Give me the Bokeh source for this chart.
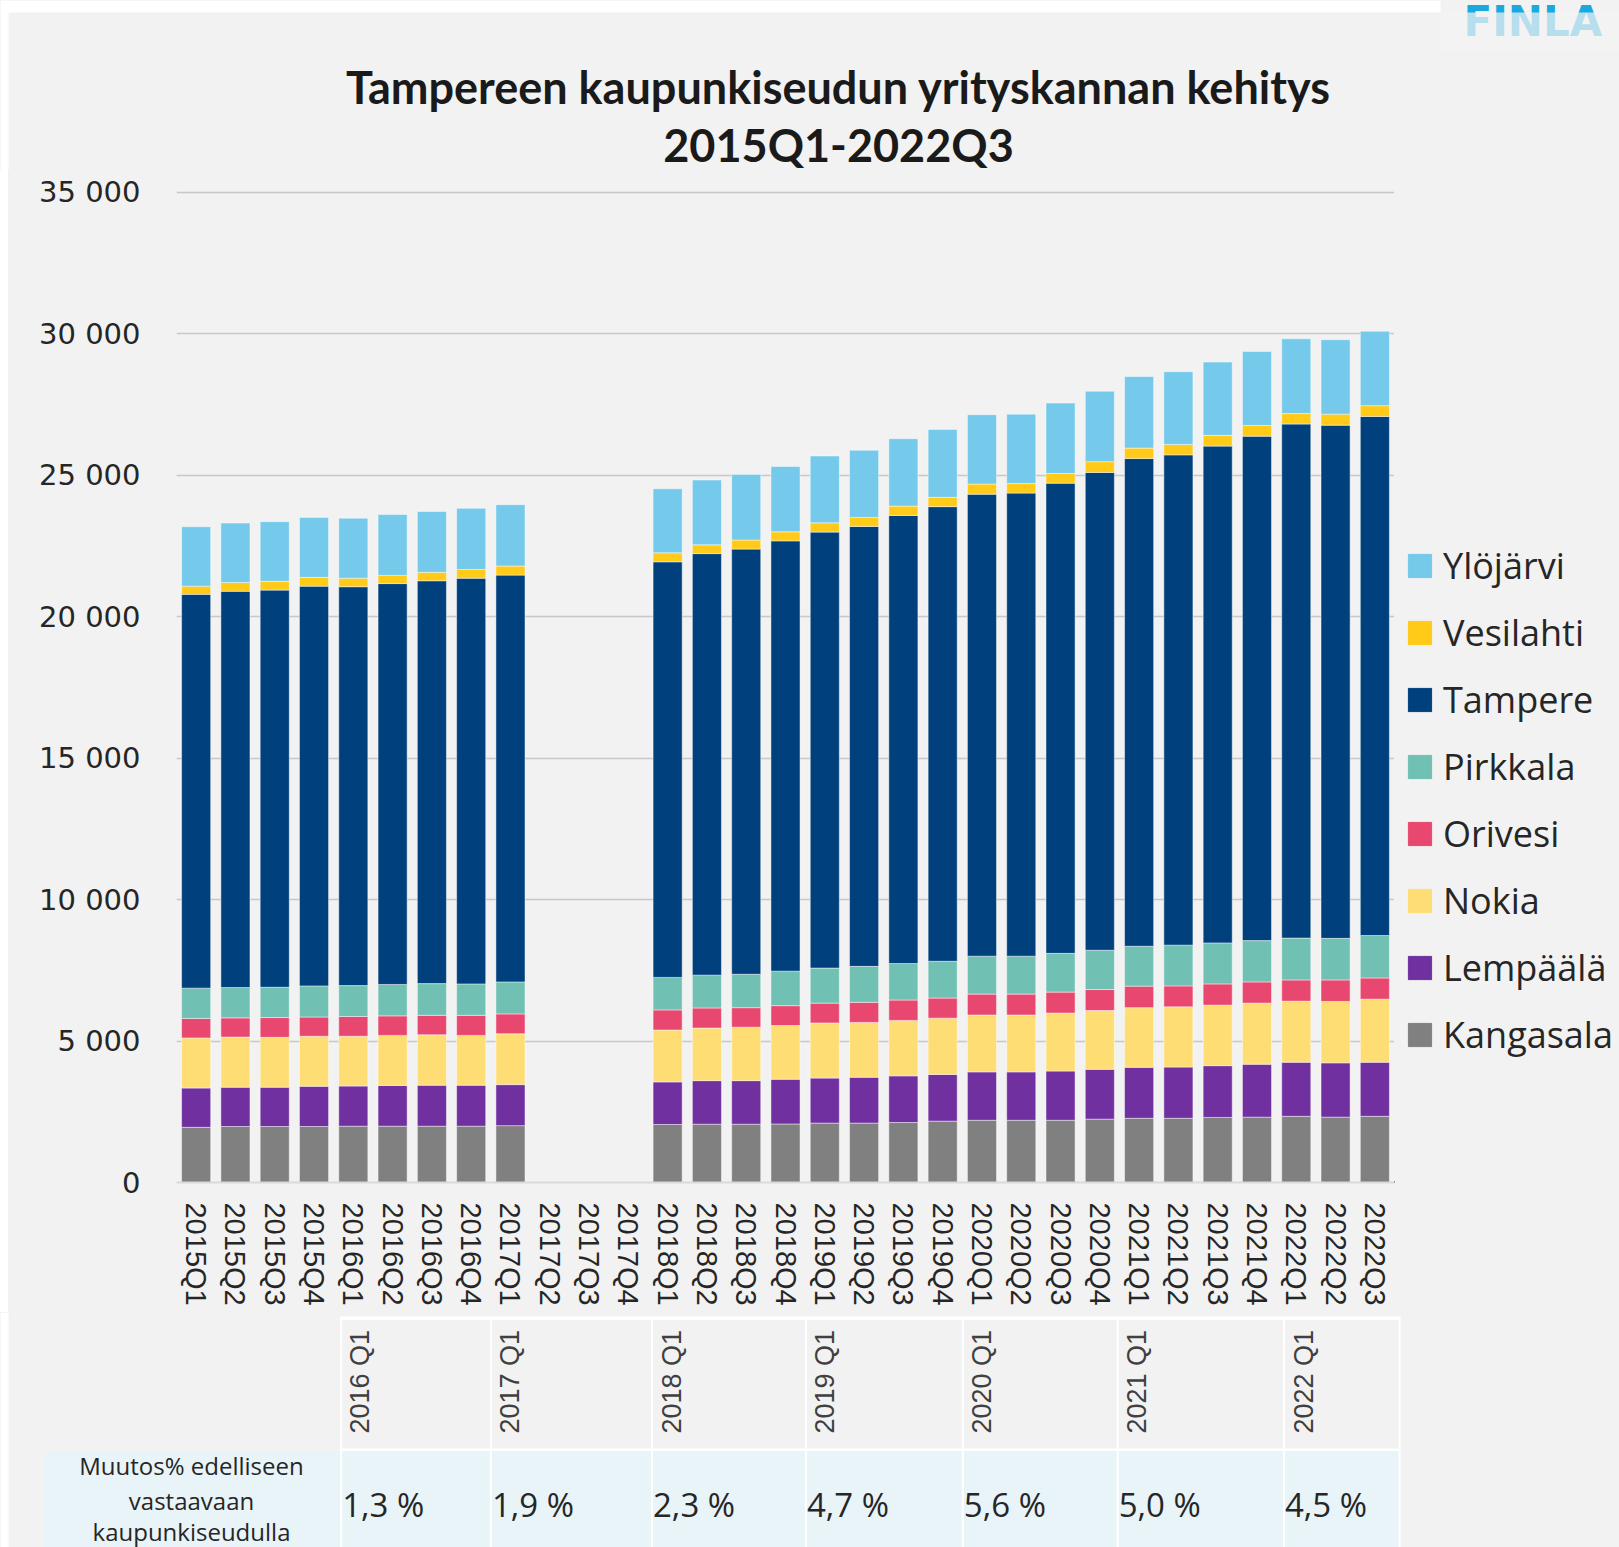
import numpy as np
from bokeh.plotting import figure
from bokeh.layouts import column, row
from bokeh.models import (ColumnDataSource, FactorRange, Range1d, FixedTicker,
                          Legend, LegendItem, Spacer)
from bokeh.core.properties import value
from bokeh.embed import file_html
from bokeh.resources import INLINE
from math import pi

# ---------------- data ----------------
quarters = ["2015Q1", "2015Q2", "2015Q3", "2015Q4", "2016Q1", "2016Q2", "2016Q3", "2016Q4",
            "2017Q1", "2017Q2", "2017Q3", "2017Q4", "2018Q1", "2018Q2", "2018Q3", "2018Q4",
            "2019Q1", "2019Q2", "2019Q3", "2019Q4", "2020Q1", "2020Q2", "2020Q3", "2020Q4",
            "2021Q1", "2021Q2", "2021Q3", "2021Q4", "2022Q1", "2022Q2", "2022Q3"]

kangasala = [1950, 1980, 1980, 1980, 1990, 1990, 1990, 1990, 2010, None, None, None,
             2050, 2060, 2060, 2070, 2100, 2100, 2120, 2170, 2200, 2200, 2200, 2240,
             2270, 2270, 2300, 2310, 2340, 2310, 2340]
lempaala = [1390, 1390, 1390, 1420, 1420, 1440, 1450, 1450, 1450, None, None, None,
            1505, 1540, 1540, 1580, 1590, 1620, 1650, 1650, 1710, 1710, 1740, 1760,
            1800, 1810, 1830, 1870, 1910, 1920, 1910]
nokia = [1770, 1770, 1760, 1770, 1760, 1770, 1780, 1760, 1800, None, None, None,
         1835, 1860, 1890, 1900, 1950, 1940, 1960, 1990, 2010, 2010, 2050, 2080,
         2110, 2130, 2140, 2160, 2160, 2170, 2230]
orivesi = [690, 680, 700, 680, 700, 690, 690, 710, 700, None, None, None,
           710, 710, 690, 700, 700, 710, 720, 710, 740, 740, 740, 740,
           760, 740, 750, 750, 750, 760, 750]
pirkkala = [1070, 1070, 1070, 1100, 1090, 1110, 1120, 1110, 1130, None, None, None,
            1150, 1160, 1180, 1220, 1240, 1270, 1290, 1300, 1340, 1340, 1370, 1390,
            1410, 1440, 1450, 1460, 1480, 1470, 1500]
tampere = [13920, 14010, 14040, 14130, 14100, 14170, 14240, 14340, 14380, None, None, None,
           14690, 14900, 15030, 15210, 15410, 15550, 15840, 16070, 16330, 16370, 16620, 16890,
           17240, 17330, 17560, 17830, 18170, 18140, 18350]
vesilahti = [290, 310, 310, 310, 300, 290, 300, 310, 320, None, None, None,
             320, 310, 320, 320, 330, 320, 330, 330, 360, 340, 340, 380,
             370, 370, 380, 380, 370, 390, 380]
ylojarvi = [2100, 2100, 2110, 2120, 2120, 2150, 2150, 2160, 2170, None, None, None,
            2260, 2290, 2320, 2310, 2360, 2370, 2380, 2400, 2450, 2450, 2490, 2490,
            2530, 2570, 2590, 2610, 2640, 2630, 2630]

series_names = ["Kangasala", "Lempäälä", "Nokia", "Orivesi", "Pirkkala", "Tampere", "Vesilahti", "Ylöjärvi"]
series_values = [kangasala, lempaala, nokia, orivesi, pirkkala, tampere, vesilahti, ylojarvi]
series_colors = ["#808080", "#7030a0", "#ffdd75", "#e8486f", "#70c1b3", "#00417d", "#ffca18", "#75c9eb"]

ytick_values = [0, 5000, 10000, 15000, 20000, 25000, 30000, 35000]
ytick_labels = ["0", "5 000", "10 000", "15 000", "20 000", "25 000", "30 000", "35 000"]

period_labels = ["2016 Q1", "2017 Q1", "2018 Q1", "2019 Q1", "2020 Q1", "2021 Q1", "2022 Q1"]
change_labels = ["1,3 %", "1,9 %", "2,3 %", "4,7 %", "5,6 %", "5,0 %", "4,5 %"]
row_label_lines = ["Muutos% edelliseen", "vastaavaan", "kaupunkiseudulla"]

title_lines = ["Tampereen kaupunkiseudun yrityskannan kehitys", "2015Q1-2022Q3"]
logo_text = "FINLA"

# ---------------- layout constants (pixels) ----------------
W = 1619
BG = "#f2f2f2"
A_H = 170                      # title strip
B_H = 1142                     # chart strip
C_H = 1547 - A_H - B_H         # table strip
B_LEFT = 168
FRAME_W = 1218
B_W = B_LEFT + FRAME_W         # chart figure width (frame ends at its right edge)
D_W = W - 8 - B_W              # legend strip width


def blank_fig(width, height, flip=True):
    f = figure(width=width, height=height, x_range=Range1d(0, width),
               y_range=Range1d(height, 0) if flip else Range1d(0, height),
               x_axis_type=None, y_axis_type=None, output_backend="svg",
               toolbar_location=None, min_border=0)
    f.background_fill_color = BG
    f.border_fill_color = BG
    f.outline_line_color = None
    return f


# ---------------- A: title ----------------
pa = blank_fig(W, A_H)
pa.text(x=[1463], y=[21], text=[logo_text], text_font=value("DejaVu Sans"), text_font_style="bold",
        text_font_size="42px", text_color="#1aa9de", text_align="left", text_baseline="alphabetic")
pa.quad(left=[1440], right=[W], top=[12], bottom=[50], fill_color=BG, fill_alpha=0.72,
        line_color=None)
pa.quad(left=[0], right=[8], top=[0], bottom=[A_H], fill_color="white", line_color=None)
pa.quad(left=[0], right=[1440], top=[0], bottom=[12], fill_color="white", line_color=None)
pa.text(x=[838, 838], y=[86, 144], text=title_lines, text_font=value("Lato"),
        text_font_style="bold", text_font_size="45px", text_color="#1a1a1a",
        text_align="center", text_baseline="alphabetic")

# ---------------- B: chart ----------------
data = {"quarter": quarters}
for name, vals in zip(series_names, series_values):
    data[name] = np.array([np.nan if v is None else v for v in vals], dtype=float)
source = ColumnDataSource(data)

pb = figure(width=B_W, height=B_H, x_range=FactorRange(factors=quarters),
            y_range=Range1d(0, 35100), output_backend="svg", toolbar_location=None,
            min_border_left=B_LEFT, min_border_right=0,
            min_border_top=19, min_border_bottom=130)
pb.background_fill_color = BG
pb.border_fill_color = BG
pb.outline_line_color = None

pb.vbar_stack(series_names, x="quarter", width=0.74, color=series_colors,
              source=source, line_color="white", line_alpha=0.45, line_width=1)

pb.yaxis.ticker = FixedTicker(ticks=ytick_values)
pb.yaxis.major_label_overrides = {v: l for v, l in zip(ytick_values, ytick_labels)}
pb.yaxis.axis_line_color = None
pb.yaxis.major_tick_line_color = None
pb.yaxis.minor_tick_line_color = None
pb.yaxis.major_label_text_font = "DejaVu Sans"
pb.yaxis.major_label_text_font_size = "29px"
pb.yaxis.major_label_text_color = "#262626"
pb.yaxis.major_label_standoff = 30

pb.xaxis.axis_line_color = "#d9d9d9"
pb.xaxis.axis_line_width = 2
pb.xaxis.major_tick_line_color = None
pb.xaxis.minor_tick_line_color = None
pb.xaxis.major_label_orientation = "vertical"
pb.xaxis.major_label_text_font = "Liberation Sans"
pb.xaxis.major_label_text_font_size = "29px"
pb.xaxis.major_label_text_color = "#262626"
pb.xaxis.major_label_standoff = 14

pb.ygrid.grid_line_color = "#c8c8c8"
pb.ygrid.grid_line_width = 1.5
pb.xgrid.grid_line_color = None

# ---------------- D: legend strip ----------------
pd_ = blank_fig(D_W, B_H, flip=False)
legend_renderers = [pd_.vbar(x=[-1000], top=[1], width=1, color=c) for c in series_colors]
items = [LegendItem(label=n, renderers=[r]) for n, r in zip(series_names, legend_renderers)][::-1]
legend = Legend(items=items, location=(11, 123), padding=0, margin=0,
                glyph_width=29, glyph_height=29, label_height=29, label_standoff=9, spacing=18,
                label_text_font="Open Sans", label_text_font_size="36px",
                label_text_color="#262626", background_fill_alpha=0, border_line_alpha=0)
pd_.add_layout(legend, "center")

# ---------------- C: table ----------------
pc = blank_fig(W, C_H)
cell_edges = [340.7, 490.4, 651.5, 805.4, 962.3, 1117.2, 1283.4, 1399.1]
pc.quad(left=[0], right=[8], top=[0], bottom=[C_H], fill_color="white", line_color=None)
pc.quad(left=[43.4], right=[cell_edges[-1]], top=[138.5], bottom=[C_H + 2],
        fill_color="#e9f4f9", line_color=None)
pc.quad(left=[cell_edges[0], cell_edges[0]], right=[cell_edges[-1], cell_edges[-1]],
        top=[4, 136], bottom=[7.5, 138.5], fill_color="white", line_color=None)
pc.quad(left=[e - 1 for e in cell_edges], right=[e + 1 for e in cell_edges],
        top=[4] * len(cell_edges), bottom=[C_H + 2] * len(cell_edges),
        fill_color="white", line_color=None)

header_centers = [359, 509, 671, 824, 981, 1136, 1303]
pc.text(x=header_centers, y=[121] * len(period_labels), text=period_labels, angle=pi / 2,
        text_font=value("Liberation Sans"), text_font_size="27px", text_color="#404040",
        text_align="left", text_baseline="middle")
pc.text(x=[e + 1 for e in cell_edges[:-1]], y=[192] * len(change_labels), text=change_labels,
        text_font=value("Open Sans"), text_font_size="33px", text_color="#262626",
        text_align="left", text_baseline="middle")
pc.text(x=[191] * 3, y=[153, 188, 219], text=row_label_lines,
        text_font=value("Open Sans"), text_font_size="24px", text_color="#262626",
        text_align="center", text_baseline="middle")

mid = row(Spacer(width=8, height=B_H, styles={"background-color": "white"}), pb, pd_,
          spacing=0, styles={"background-color": BG})
layout = column(pa, mid, pc, spacing=0, styles={"background-color": BG})
open("out.html", "w").write(file_html(layout, INLINE))
